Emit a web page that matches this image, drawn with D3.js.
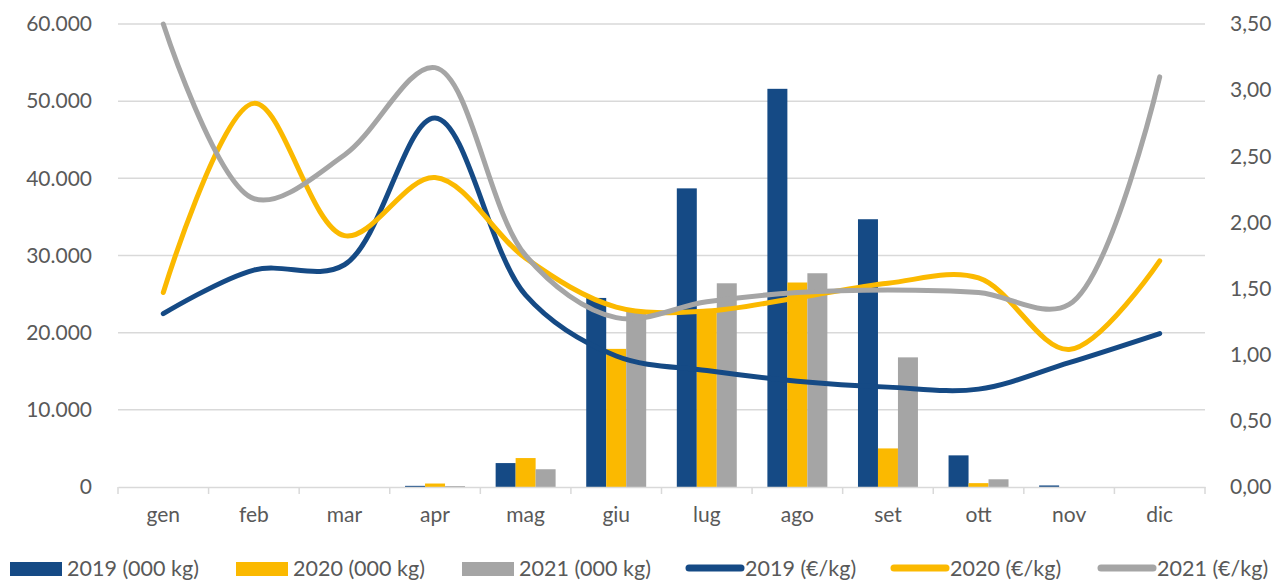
<!DOCTYPE html>
<html><head><meta charset="utf-8">
<script src="https://cdn.jsdelivr.net/npm/d3@7"></script>
<style>
body{margin:0;background:#fff;}
text{font-family:Lato, "Noto Sans", sans-serif;fill:#595959;}
</style></head>
<body><svg id="c" width="1272" height="580"></svg>
<script>
const months = ["gen","feb","mar","apr","mag","giu","lug","ago","set","ott","nov","dic"];
const vol2019 = [0,0,0,150,3100,24500,38700,51600,34700,4100,200,0];
const vol2020 = [0,0,0,450,3750,17900,23000,26500,5000,500,0,0];
const vol2021 = [0,0,0,120,2300,22700,26400,27700,16800,1000,0,0];
const price2019 = [1.31,1.64,1.68,2.79,1.45,0.99,0.88,0.80,0.755,0.74,0.94,1.16];
const price2020 = [1.47,2.90,1.90,2.34,1.73,1.36,1.33,1.43,1.54,1.58,1.04,1.71];
const price2021 = [3.50,2.18,2.51,3.17,1.75,1.28,1.40,1.47,1.49,1.47,1.38,3.10];
const leftTicks = [0,10000,20000,30000,40000,50000,60000];
const rightTicks = [0,0.5,1,1.5,2,2.5,3,3.5];
const barSeries = [
  {name:"2019 (000 kg)", values:vol2019, color:"#154a85"},
  {name:"2020 (000 kg)", values:vol2020, color:"#fbb900"},
  {name:"2021 (000 kg)", values:vol2021, color:"#a5a5a5"}
];
const lineSeries = [
  {name:"2019 (€/kg)", values:price2019, color:"#154a85"},
  {name:"2020 (€/kg)", values:price2020, color:"#fbb900"},
  {name:"2021 (€/kg)", values:price2021, color:"#a5a5a5"}
];

const svg = d3.select("#c");
const L=118, R=1205, T=24, B=487;
const x0 = d3.scaleBand().domain(months).range([L,R]).padding(0);
const bw = x0.bandwidth();
const x1 = d3.scaleBand().domain(barSeries.map(s=>s.name)).range([bw*0.169,bw*0.831]).padding(0);
const yL = d3.scaleLinear().domain([0,60000]).range([B,T]);
const yR = d3.scaleLinear().domain([0,3.5]).range([B,T]);
const fmtL = v => v===0 ? "0" : d3.format(",")(v).replace(/,/g,".");
const fmtR = v => d3.format(".2f")(v).replace(".",",");

// gridlines
svg.append("g").selectAll("line").data(leftTicks.filter(d=>d>0)).join("line")
  .attr("x1",L).attr("x2",R).attr("y1",d=>yL(d)).attr("y2",d=>yL(d))
  .attr("stroke","#d9d9d9").attr("stroke-width",1.5);

// left axis labels
const gl = svg.append("g").attr("transform",`translate(${L-23},0)`)
  .call(d3.axisLeft(yL).tickValues(leftTicks).tickFormat(fmtL).tickSize(0));
gl.select(".domain").remove();
gl.selectAll("text").attr("font-size",21).attr("fill","#595959").attr("font-family","Lato");

// right axis labels
const gr = svg.append("g").attr("transform",`translate(${R+25},0)`)
  .call(d3.axisRight(yR).tickValues(rightTicks).tickFormat(fmtR).tickSize(0));
gr.select(".domain").remove();
gr.selectAll("text").attr("font-size",21).attr("fill","#595959").attr("font-family","Lato").attr("x",0);

// bars
barSeries.forEach(s=>{
  svg.append("g").selectAll("rect").data(months).join("rect")
    .attr("x",(m)=>x0(m)+x1(s.name))
    .attr("width",x1.bandwidth())
    .attr("y",(m,i)=>yL(s.values[i]))
    .attr("height",(m,i)=>B-yL(s.values[i]))
    .attr("fill",s.color);
});

// bottom axis
const gb = svg.append("g").attr("transform",`translate(0,${B})`)
  .call(d3.axisBottom(x0).tickSize(0).tickPadding(20));
gb.select(".domain").attr("stroke","#d9d9d9").attr("stroke-width",1.5);
gb.selectAll("text").attr("font-size",21).attr("fill","#595959").attr("font-family","Lato");
svg.append("g").selectAll("line").data(months.concat(["_end"])).join("line")
  .attr("x1",(m,i)=>L+i*bw).attr("x2",(m,i)=>L+i*bw)
  .attr("y1",B).attr("y2",B+7).attr("stroke","#d9d9d9").attr("stroke-width",1.5);

// lines
const line = d3.line().curve(d3.curveCatmullRom.alpha(0.5))
  .x((d,i)=>x0(months[i])+bw/2).y(d=>yR(d));
lineSeries.forEach(s=>{
  svg.append("path").datum(s.values).attr("d",line)
    .attr("fill","none").attr("stroke",s.color).attr("stroke-width",5).attr("stroke-linecap","round");
});

// legend
const lg = svg.append("g");
const barLegX = [10,236,462];
barSeries.forEach((s,i)=>{
  lg.append("rect").attr("x",barLegX[i]).attr("y",562).attr("width",52).attr("height",14).attr("fill",s.color);
  lg.append("text").attr("x",barLegX[i]+57).attr("y",576).attr("font-size",21.5).text(s.name);
});
const lineLegX = [689,894,1101];
lineSeries.forEach((s,i)=>{
  lg.append("line").attr("x1",lineLegX[i]).attr("x2",lineLegX[i]+52).attr("y1",568).attr("y2",568)
    .attr("stroke",s.color).attr("stroke-width",7).attr("stroke-linecap","round");
  lg.append("text").attr("x",lineLegX[i]+56).attr("y",576).attr("font-size",21.5).text(s.name);
});
</script></body></html>
